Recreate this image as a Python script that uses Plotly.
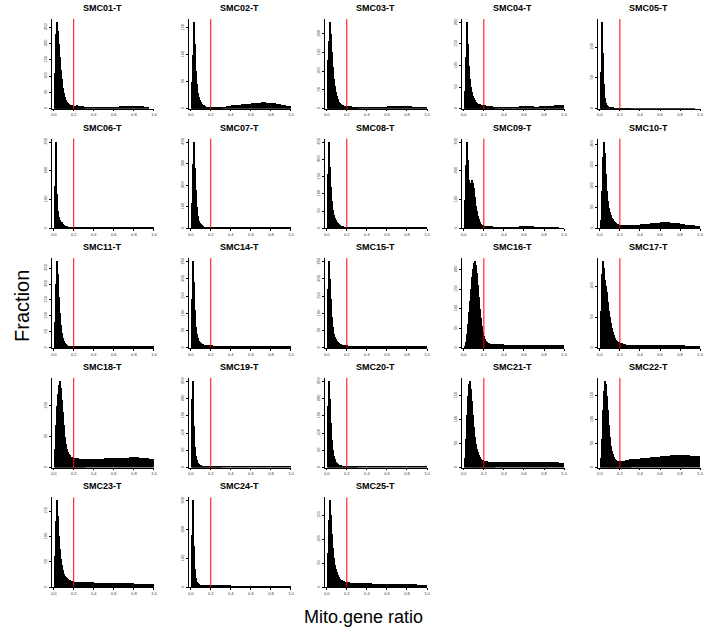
import plotly.graph_objects as go

W, H = 722, 638

samples = ["SMC01-T", "SMC02-T", "SMC03-T", "SMC04-T", "SMC05-T",
           "SMC06-T", "SMC07-T", "SMC08-T", "SMC09-T", "SMC10-T",
           "SMC11-T", "SMC14-T", "SMC15-T", "SMC16-T", "SMC17-T",
           "SMC18-T", "SMC19-T", "SMC20-T", "SMC21-T", "SMC22-T",
           "SMC23-T", "SMC24-T", "SMC25-T"]

# bin edges: 0.01-wide bins on 0-0.3, 0.05-wide bins on 0.3-1.0
fine_edges = [i / 100 for i in range(31)]
tail_edges = [0.30, 0.35, 0.40, 0.45, 0.50, 0.55, 0.60, 0.65, 0.70, 0.75, 0.80, 0.85, 0.90, 0.95, 1.00]

SMC01 = [110, 230, 265, 240, 200, 160, 120, 90, 65, 48, 36, 28, 22, 18, 15, 12, 11, 10, 9, 9, 8, 8, 10, 8, 7, 8, 7, 6, 7, 6,
         6, 5, 5, 6, 5, 6, 6, 7, 8, 9, 8, 7, 6, 0]
SMC02 = [50, 100, 160, 120, 70, 45, 30, 22, 16, 12, 9, 7, 6, 5, 4, 4, 4, 4, 3, 3, 3, 3, 3, 3, 3, 3, 3, 3, 3, 3,
         4, 5, 6, 7, 8, 9, 10, 11, 12, 11, 10, 9, 7, 5]
SMC03 = [130, 180, 230, 200, 150, 110, 80, 60, 45, 35, 25, 18, 14, 12, 10, 9, 8, 8, 7, 7, 7, 6, 6, 6, 5, 5, 5, 5, 5, 5,
         4, 4, 4, 5, 5, 5, 6, 7, 8, 7, 6, 5, 4, 3]
SMC04 = [40, 120, 200, 150, 100, 70, 50, 38, 30, 24, 20, 16, 14, 12, 11, 10, 9, 9, 8, 8, 8, 7, 7, 7, 6, 6, 6, 6, 5, 5,
         5, 5, 5, 5, 5, 6, 6, 6, 5, 6, 6, 7, 8, 9]
SMC05 = [60, 140, 90, 40, 18, 10, 6, 4, 3, 2, 2, 2, 2, 1, 1, 1, 1, 1, 1, 1, 1, 1, 1, 1, 1, 1, 1, 1, 1, 1,
         1, 1, 1, 1, 1, 1, 1, 1, 1, 1, 1, 1, 1, 0]
SMC06 = [150, 300, 120, 60, 40, 30, 25, 22, 18, 14, 11, 9, 8, 7, 6, 6, 5, 5, 5, 5, 5, 5, 5, 6, 6, 6, 6, 5, 5, 5,
         5, 5, 5, 4, 4, 3, 3, 3, 3, 3, 3, 3, 3, 3]
SMC07 = [120, 300, 400, 280, 180, 100, 60, 35, 25, 20, 15, 12, 10, 9, 8, 8, 7, 7, 7, 7, 7, 7, 7, 7, 7, 7, 7, 6, 6, 6,
         6, 6, 6, 6, 7, 7, 8, 8, 8, 7, 6, 6, 5, 4]
SMC08 = [160, 250, 180, 120, 80, 55, 40, 30, 24, 20, 16, 13, 11, 9, 8, 7, 6, 6, 5, 5, 4, 4, 4, 4, 4, 4, 4, 4, 3, 3,
         3, 3, 3, 3, 3, 3, 3, 3, 3, 4, 5, 5, 5, 5]
SMC09 = [100, 220, 300, 240, 170, 150, 160, 170, 160, 140, 110, 80, 60, 45, 35, 25, 18, 14, 12, 10, 9, 9, 8, 8, 8, 8, 8, 8, 7, 7,
         7, 7, 7, 7, 7, 8, 8, 8, 7, 7, 6, 6, 5, 0]
SMC10 = [20, 90, 170, 205, 180, 130, 90, 65, 50, 40, 32, 26, 22, 18, 16, 14, 12, 11, 10, 10, 10, 10, 10, 10, 10, 10, 10, 10, 10, 10,
         10, 10, 11, 12, 13, 14, 15, 15, 14, 13, 12, 10, 8, 6]
SMC11 = [80, 200, 270, 230, 160, 110, 70, 45, 30, 20, 15, 11, 8, 6, 5, 5, 4, 4, 4, 4, 4, 4, 3, 3, 3, 3, 3, 3, 3, 3,
         3, 3, 3, 3, 3, 3, 3, 3, 3, 3, 3, 3, 4, 5]
SMC14 = [140, 250, 190, 110, 60, 40, 28, 20, 16, 13, 11, 10, 9, 9, 8, 8, 8, 7, 7, 7, 7, 6, 6, 6, 6, 6, 6, 5, 5, 5,
         5, 5, 5, 5, 5, 5, 4, 4, 4, 4, 4, 4, 4, 3]
SMC15 = [170, 250, 200, 140, 90, 60, 40, 30, 24, 20, 16, 13, 11, 10, 9, 8, 8, 7, 7, 7, 6, 6, 6, 6, 6, 6, 5, 5, 5, 5,
         5, 5, 5, 5, 4, 4, 4, 4, 4, 4, 4, 4, 3, 3]
SMC16 = [5, 15, 35, 60, 90, 120, 150, 180, 200, 215, 220, 210, 190, 160, 130, 100, 75, 55, 40, 30, 22, 17, 14, 12, 11, 10, 10, 9, 9, 9,
         9, 9, 8, 8, 8, 8, 8, 8, 8, 8, 8, 8, 8, 8]
SMC17 = [60, 120, 140, 130, 110, 100, 90, 75, 60, 50, 40, 32, 25, 20, 16, 13, 11, 10, 9, 8, 7, 7, 6, 6, 6, 5, 5, 5, 5, 5,
         5, 4, 4, 4, 4, 4, 4, 4, 4, 4, 4, 3, 3, 3]
SMC18 = [30, 70, 100, 120, 135, 140, 130, 110, 90, 70, 50, 38, 30, 25, 22, 20, 18, 17, 16, 15, 15, 15, 15, 15, 14, 14, 14, 14, 14, 14,
         14, 14, 14, 14, 15, 15, 15, 16, 16, 17, 17, 16, 15, 14]
SMC19 = [200, 250, 120, 60, 35, 22, 15, 11, 9, 7, 6, 5, 5, 4, 4, 4, 4, 3, 3, 3, 3, 3, 3, 3, 3, 3, 3, 3, 3, 3,
         3, 3, 3, 3, 3, 3, 3, 3, 3, 3, 3, 3, 3, 3]
SMC20 = [180, 250, 200, 130, 80, 50, 35, 25, 18, 14, 11, 9, 8, 7, 6, 6, 5, 5, 5, 5, 5, 5, 5, 5, 4, 4, 4, 4, 4, 4,
         4, 4, 4, 4, 4, 4, 4, 4, 4, 4, 3, 3, 3, 3]
SMC21 = [20, 60, 110, 150, 175, 180, 165, 140, 110, 85, 65, 50, 40, 32, 26, 22, 19, 17, 16, 15, 14, 13, 13, 12, 12, 12, 12, 12, 12, 12,
         12, 12, 12, 12, 12, 12, 12, 12, 12, 12, 12, 12, 11, 10]
SMC22 = [20, 60, 120, 160, 180, 175, 150, 120, 90, 65, 45, 35, 28, 22, 18, 16, 14, 13, 13, 13, 13, 14, 14, 15, 15, 16, 16, 17, 17, 18,
         18, 19, 20, 21, 22, 23, 24, 25, 26, 27, 27, 26, 25, 24]
SMC23 = [60, 130, 170, 140, 100, 75, 55, 42, 32, 26, 22, 19, 17, 15, 14, 13, 12, 11, 11, 10, 10, 10, 10, 10, 9, 9, 9, 9, 9, 9,
         9, 9, 8, 8, 8, 8, 7, 7, 7, 7, 6, 6, 5, 5]
SMC24 = [180, 300, 140, 60, 30, 18, 12, 9, 7, 6, 5, 4, 4, 4, 3, 3, 3, 3, 3, 3, 3, 3, 3, 3, 3, 3, 3, 3, 3, 3,
         3, 3, 2, 2, 2, 2, 2, 2, 2, 2, 2, 2, 2, 2]
SMC25 = [70, 140, 180, 150, 110, 80, 60, 45, 36, 30, 25, 20, 17, 15, 13, 12, 11, 10, 10, 9, 9, 9, 8, 8, 8, 8, 8, 8, 7, 7,
         7, 7, 7, 6, 6, 6, 6, 5, 5, 5, 5, 5, 4, 4]

counts = [SMC01, SMC02, SMC03, SMC04, SMC05, SMC06, SMC07, SMC08, SMC09, SMC10,
          SMC11, SMC14, SMC15, SMC16, SMC17, SMC18, SMC19, SMC20, SMC21, SMC22,
          SMC23, SMC24, SMC25]

threshold = 0.2
x_ticks = [0.0, 0.2, 0.4, 0.6, 0.8, 1.0]

edges = fine_edges + tail_edges[1:]
centers = [(a + b) / 2 for a, b in zip(edges[:-1], edges[1:])]
widths = [b - a for a, b in zip(edges[:-1], edges[1:])]

# layout geometry (pixels)
col_left = [51, 189, 326, 464, 601]
plot_w = 103
row_top = [18, 138, 258, 378, 498]
plot_h = 90

fig = go.Figure()
annotations = []
shapes = []
for i, (name, ys) in enumerate(zip(samples, counts)):
    r, c = divmod(i, 5)
    k = i + 1
    xa = "x" if k == 1 else f"x{k}"
    ya = "y" if k == 1 else f"y{k}"
    fig.add_trace(go.Bar(x=centers, y=ys, width=widths, xaxis=xa, yaxis=ya,
                         marker=dict(color="black", line=dict(width=0)),
                         showlegend=False, hoverinfo="skip"))
    x0 = col_left[c] / W
    x1 = (col_left[c] + plot_w) / W
    y1 = 1 - row_top[r] / H
    y0 = 1 - (row_top[r] + plot_h) / H
    ymax = max(ys) * 1.04
    ax_common = dict(showgrid=False, zeroline=False, showline=True, linecolor="black",
                     linewidth=0.6, ticks="outside", ticklen=2, tickwidth=0.6,
                     tickcolor="black", tickfont=dict(size=4, color="#333",
                                                      family="Liberation Sans"))
    fig.layout[f"xaxis{'' if k == 1 else k}"] = dict(
        domain=[x0, x1], anchor=ya, range=[-0.02, 1.0], tickvals=x_ticks,
        ticktext=[f"{v:.1f}" for v in x_ticks], **ax_common)
    fig.layout[f"yaxis{'' if k == 1 else k}"] = dict(
        domain=[y0, y1], anchor=xa, range=[0, ymax], nticks=6, tickangle=-90,
        **ax_common)
    shapes.append(dict(type="line", xref=xa, yref="paper", x0=threshold, x1=threshold,
                       y0=y0, y1=y1, line=dict(color="red", width=1)))
    annotations.append(dict(text=f"<b>{name}</b>", xref="paper", yref="paper",
                            x=(x0 + x1) / 2, y=y1 + 4 / H, xanchor="center",
                            yanchor="bottom", showarrow=False,
                            font=dict(size=9, color="black", family="Liberation Sans")))

annotations.append(dict(text="Fraction", xref="paper", yref="paper", x=21 / W,
                        y=1 - 306 / H, textangle=-90, showarrow=False,
                        xanchor="center", yanchor="middle",
                        font=dict(size=20, color="black", family="Liberation Sans")))
annotations.append(dict(text="Mito.gene ratio", xref="paper", yref="paper",
                        x=365 / W, y=1 - 618 / H, showarrow=False,
                        xanchor="center", yanchor="middle",
                        font=dict(size=18, color="black", family="Liberation Sans")))

fig.update_layout(width=W, height=H, margin=dict(l=0, r=0, t=0, b=0),
                  paper_bgcolor="white", plot_bgcolor="white", bargap=0,
                  annotations=annotations, shapes=shapes)
fig.write_html("out.html")
